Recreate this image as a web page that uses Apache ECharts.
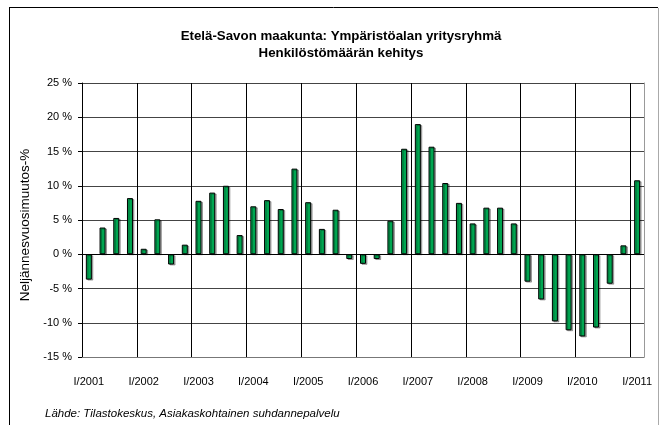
<!DOCTYPE html>
<html>
<head>
<meta charset="utf-8">
<script src="https://cdn.jsdelivr.net/npm/echarts@6/dist/echarts.min.js"></script>
<style>
  html, body { margin: 0; padding: 0; background: #fff; }
  #chart { width: 660px; height: 425px; }
</style>
</head>
<body>
<div id="chart"></div>
<script>
const categories = [
  'I/2001', 'II/2001', 'III/2001', 'IV/2001',
  'I/2002', 'II/2002', 'III/2002', 'IV/2002',
  'I/2003', 'II/2003', 'III/2003', 'IV/2003',
  'I/2004', 'II/2004', 'III/2004', 'IV/2004',
  'I/2005', 'II/2005', 'III/2005', 'IV/2005',
  'I/2006', 'II/2006', 'III/2006', 'IV/2006',
  'I/2007', 'II/2007', 'III/2007', 'IV/2007',
  'I/2008', 'II/2008', 'III/2008', 'IV/2008',
  'I/2009', 'II/2009', 'III/2009', 'IV/2009',
  'I/2010', 'II/2010', 'III/2010', 'IV/2010',
  'I/2011'
];
// neljännesvuosimuutos, %
const muutos = [
  -3.7, 3.9, 5.3, 8.2,
  0.8, 5.1, -1.5, 1.4,
  7.8, 9.0, 10.0, 2.8,
  7.0, 7.9, 6.6, 12.5,
  7.6, 3.7, 6.5, -0.7,
  -1.4, -0.7, 4.9, 15.4,
  19.0, 15.7, 10.4, 7.5,
  4.5, 6.8, 6.8, 4.5,
  -4.0, -6.6, -9.8, -11.1,
  -12.0, -10.7, -4.3, 1.3,
  10.8
];
const yMin = -15;
const yMax = 25;
const yStep = 5;

const font = '"Liberation Sans", Arial, sans-serif';

const myChart = echarts.init(document.getElementById('chart'));
myChart.setOption({
  animation: false,
  textStyle: { fontFamily: font },
  title: [{
    text: 'Etelä-Savon maakunta: Ympäristöalan yritysryhmä\nHenkilöstömäärän kehitys',
    left: 336,
    top: 23,
    textAlign: 'center',
    textStyle: {
      fontFamily: font,
      fontSize: 13.3,
      fontWeight: 'bold',
      color: '#000',
      lineHeight: 17
    }
  }, {
    text: 'Lähde: Tilastokeskus, Asiakaskohtainen suhdannepalvelu',
    left: 40,
    top: 403,
    textStyle: {
      fontFamily: font,
      fontSize: 11.5,
      fontStyle: 'italic',
      fontWeight: 'normal',
      color: '#000'
    }
  }],
  grid: {
    left: 82,
    right: 16,
    top: 83,
    bottom: 68
  },
  xAxis: {
    type: 'category',
    data: categories,
    boundaryGap: true,
    axisLine: { show: true, onZero: false, lineStyle: { color: '#777', width: 1 } },
    axisTick: { show: false },
    axisLabel: {
      interval: 3,
      margin: 19,
      fontSize: 11,
      color: '#000',
      fontFamily: font
    },
    splitLine: {
      show: true,
      interval: 3,
      lineStyle: { color: '#000', width: 1 }
    }
  },
  yAxis: [{
    type: 'value',
    min: yMin,
    max: yMax,
    interval: yStep,
    name: 'Neljännesvuosimuutos-%',
    nameLocation: 'middle',
    nameGap: 38,
    nameTextStyle: { fontSize: 13.5, color: '#000', fontFamily: font, padding: [0, 10, 0, 0] },
    axisLine: { show: true, onZero: false, lineStyle: { color: '#000', width: 1 } },
    axisTick: { show: true, inside: false, length: 4, lineStyle: { color: '#000' } },
    axisLabel: {
      margin: 10,
      fontSize: 11,
      color: '#000',
      fontFamily: font,
      formatter: '{value} %'
    },
    splitLine: {
      show: true,
      lineStyle: { color: '#444', width: 1 }
    }
  }, {
    // oikea reunaviiva
    type: 'value',
    position: 'right',
    min: yMin,
    max: yMax,
    interval: yStep,
    axisLine: { show: true, onZero: false, lineStyle: { color: '#999', width: 1 } },
    axisTick: { show: false },
    axisLabel: { show: false },
    splitLine: { show: false }
  }],
  series: [{
    type: 'bar',
    data: muutos,
    barWidth: 6,
    itemStyle: {
      color: '#00a651',
      borderColor: '#000',
      borderWidth: 1,
      shadowColor: 'rgba(0,0,0,0.3)',
      shadowOffsetX: 1.5,
      shadowOffsetY: 1
    },
    markLine: {
      silent: true,
      symbol: 'none',
      label: { show: false },
      lineStyle: { color: '#000', width: 1, type: 'solid' },
      data: [{ yAxis: 0 }]
    }
  }],
  graphic: [
    { type: 'line', shape: { x1: 9.5, y1: 7.5, x2: 9.5, y2: 425 }, style: { stroke: '#000', lineWidth: 1 } },
    { type: 'line', shape: { x1: 9, y1: 7.5, x2: 658, y2: 7.5 }, style: { stroke: '#000', lineWidth: 1 } },
    { type: 'line', shape: { x1: 658.5, y1: 8, x2: 658.5, y2: 425 }, style: { stroke: '#aaa', lineWidth: 1 } }
  ]
});
</script>
</body>
</html>
